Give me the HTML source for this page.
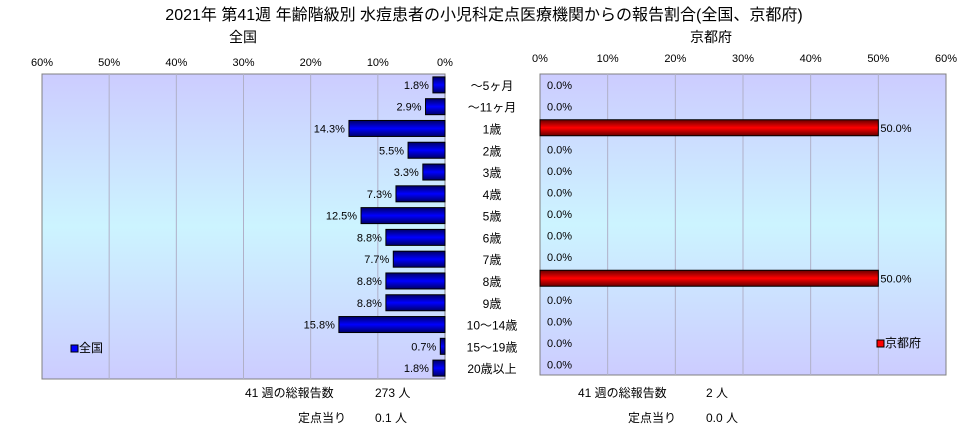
<!DOCTYPE html>
<html><head><meta charset="utf-8">
<style>
body{margin:0;background:#fff;width:968px;height:432px;overflow:hidden;font-family:"Liberation Sans","Noto Sans CJK JP",sans-serif;}
svg text{font-family:"Liberation Sans","Noto Sans CJK JP",sans-serif;}
</style></head>
<body>
<svg id="c" width="968" height="432" xmlns="http://www.w3.org/2000/svg">
<defs>
<linearGradient id="bg" x1="0" y1="0" x2="0" y2="1">
<stop offset="0" stop-color="#ccccff"/><stop offset="0.5" stop-color="#ccf4ff"/><stop offset="1" stop-color="#ccccff"/>
</linearGradient>
<linearGradient id="gb" x1="0" y1="0" x2="0" y2="1">
<stop offset="0" stop-color="#000066"/><stop offset="0.5" stop-color="#0000ff"/><stop offset="1" stop-color="#000066"/>
</linearGradient>
<linearGradient id="gr" x1="0" y1="0" x2="0" y2="1">
<stop offset="0" stop-color="#660000"/><stop offset="0.5" stop-color="#ff0000"/><stop offset="1" stop-color="#660000"/>
</linearGradient>
</defs>
<text x="484" y="20" font-size="16" text-anchor="middle">2021年 第41週 年齢階級別 水痘患者の小児科定点医療機関からの報告割合(全国、京都府)</text>
<text x="243" y="42" font-size="14" text-anchor="middle">全国</text>
<text x="711" y="42" font-size="14" text-anchor="middle">京都府</text>
<rect x="42" y="74" width="403" height="305" fill="url(#bg)" stroke="#808080"/>
<rect x="540" y="74" width="406" height="301" fill="url(#bg)" stroke="#808080"/>
<g id="g"></g>
<rect x="71" y="345" width="7" height="7" fill="#0000ff" stroke="#000"/>
<text x="79" y="352" font-size="12">全国</text>
<rect x="877" y="340" width="7" height="7" fill="#ff0000" stroke="#000"/>
<text x="885" y="347" font-size="12">京都府</text>
<text x="245" y="397" font-size="12">41 週の総報告数</text>
<text x="375" y="397" font-size="12">273 人</text>
<text x="298" y="422" font-size="12">定点当り</text>
<text x="375" y="422" font-size="12">0.1 人</text>
<text x="578" y="397" font-size="12">41 週の総報告数</text>
<text x="706" y="397" font-size="12">2 人</text>
<text x="628" y="422" font-size="12">定点当り</text>
<text x="706" y="422" font-size="12">0.0 人</text>
</svg>
<script>
const categories=["～5ヶ月","～11ヶ月","1歳","2歳","3歳","4歳","5歳","6歳","7歳","8歳","9歳","10～14歳","15～19歳","20歳以上"];
const nationalValues=[1.8,2.9,14.3,5.5,3.3,7.3,12.5,8.8,7.7,8.8,8.8,15.8,0.7,1.8];
const kyotoValues=[0,0,50,0,0,0,0,0,0,50,0,0,0,0];
const tickValues=[0,10,20,30,40,50,60];
const NS="http://www.w3.org/2000/svg";
const g=document.getElementById('g');
function mk(t,a){const e=document.createElementNS(NS,t);for(const k in a)e.setAttribute(k,a[k]);g.appendChild(e);return e;}
const L={x0:445,x1:42,y0:74,h:305},R={x0:540,x1:946,y0:74,h:301};
const xl=v=>L.x0+(L.x1-L.x0)*v/60, xr=v=>R.x0+(R.x1-R.x0)*v/60;
tickValues.forEach(t=>{
 if(t>0&&t<60){
  let l=mk('line',{x1:xl(t),x2:xl(t),y1:L.y0,y2:L.y0+L.h,stroke:'#b0b0c8'});
  
  let r=mk('line',{x1:xr(t),x2:xr(t),y1:R.y0,y2:R.y0+R.h,stroke:'#b0b0c8'});
  
 }
 let a=mk('text',{x:xl(t),y:66,'font-size':11,'text-anchor':'middle'});a.textContent=t+'%';
 
 let b=mk('text',{x:xr(t),y:62,'font-size':11,'text-anchor':'middle'});b.textContent=t+'%';
 
});
const n=categories.length, rl=L.h/n, rr=R.h/n;
categories.forEach((c,i)=>{
 const cy=L.y0+rl*(i+0.5), cyr=R.y0+rr*(i+0.5);
 let lab=mk('text',{x:492,y:cy+5,'font-size':12,'text-anchor':'middle'});lab.textContent=c;
 
 const v=nationalValues[i];
 let b=mk('rect',{x:xl(v),y:cy-8,width:L.x0-xl(v),height:16,fill:'url(#gb)',stroke:'#000'});
 
 let t=mk('text',{x:xl(v)-4,y:cy+4,'font-size':11,'text-anchor':'end'});t.textContent=v.toFixed(1)+'%';
 
 const k=kyotoValues[i];
 if(k>0){let kb=mk('rect',{x:R.x0,y:cyr-8,width:xr(k)-R.x0,height:16,fill:'url(#gr)',stroke:'#000'});
 }
 let kt=mk('text',{x:xr(k)+(k>0?2:7),y:cyr+4,'font-size':11});kt.textContent=k.toFixed(1)+'%';
 
});
</script>
</body></html>
